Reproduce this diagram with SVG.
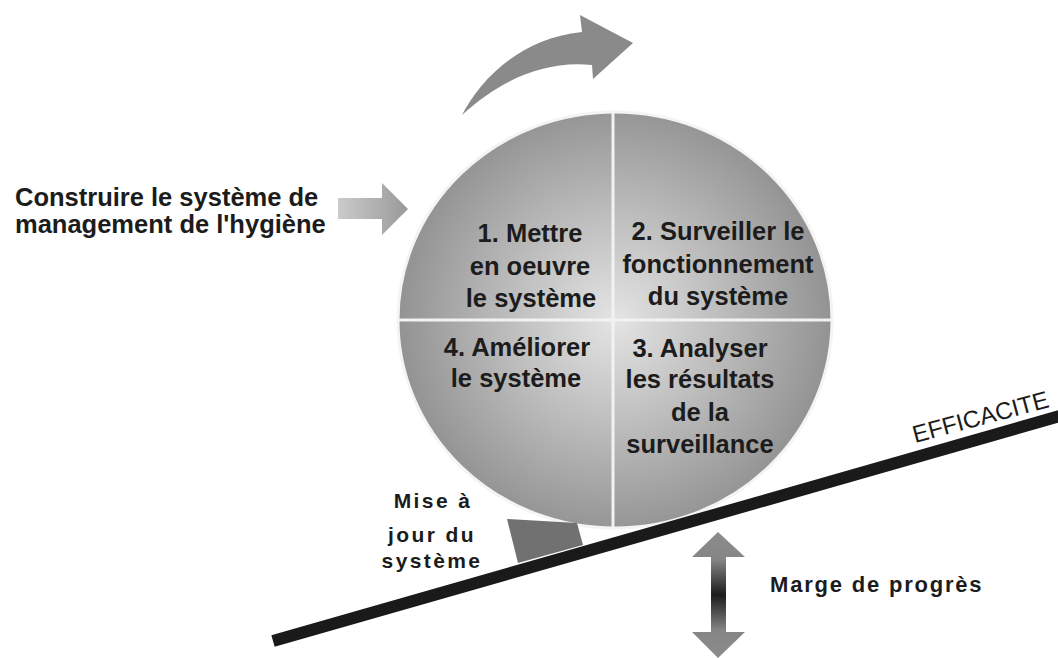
<svg xmlns="http://www.w3.org/2000/svg" width="1058" height="658" viewBox="0 0 1058 658">
  <style>
    .q { font-family: "Liberation Sans", Arial, sans-serif; font-weight: bold; font-size: 25.5px; fill: #1c1c1c; text-anchor: middle; }
    .lbl { font-family: "Liberation Sans", Arial, sans-serif; font-weight: bold; fill: #1c1c1c; }
    .eff { font-family: "Liberation Sans", Arial, sans-serif; font-size: 24px; fill: #1c1c1c; }
    .div { stroke: #f2f2f2; stroke-width: 3; }
  </style>
  <defs>
    <radialGradient id="gCircle" cx="615" cy="320" r="218" gradientUnits="userSpaceOnUse">
      <stop offset="0" stop-color="#e4e4e4"/>
      <stop offset="0.45" stop-color="#c0c0c0"/>
      <stop offset="1" stop-color="#929292"/>
    </radialGradient>
    <linearGradient id="gLeft" x1="338" y1="0" x2="408" y2="0" gradientUnits="userSpaceOnUse">
      <stop offset="0" stop-color="#cbcbcb"/>
      <stop offset="1" stop-color="#999999"/>
    </linearGradient>
    <linearGradient id="gDouble" x1="0" y1="532" x2="0" y2="658" gradientUnits="userSpaceOnUse">
      <stop offset="0" stop-color="#8c8c8c"/>
      <stop offset="0.22" stop-color="#858585"/>
      <stop offset="0.5" stop-color="#1c1c1c"/>
      <stop offset="0.78" stop-color="#858585"/>
      <stop offset="1" stop-color="#8c8c8c"/>
    </linearGradient>
  </defs>
  <rect width="1058" height="658" fill="#ffffff"/>

  <g id="cycle">
    <ellipse cx="615" cy="320" rx="217" ry="208" fill="url(#gCircle)" stroke="#f4f4f4" stroke-width="3"/>
    <line class="div" x1="613" y1="112" x2="613" y2="528"/>
    <line class="div" x1="398" y1="320" x2="832" y2="320"/>
  </g>

  <g id="q1-mettre-en-oeuvre">
    <text class="q" x="530" y="242">1. Mettre</text>
    <text class="q" x="530" y="275">en oeuvre</text>
    <text class="q" x="531" y="307">le système</text>
  </g>
  <g id="q2-surveiller">
    <text class="q" x="718" y="240">2. Surveiller le</text>
    <text class="q" x="718" y="273">fonctionnement</text>
    <text class="q" x="718" y="305">du système</text>
  </g>
  <g id="q3-analyser">
    <text class="q" x="700" y="357">3. Analyser</text>
    <text class="q" x="700" y="388">les résultats</text>
    <text class="q" x="700" y="421">de la</text>
    <text class="q" x="700" y="453">surveillance</text>
  </g>
  <g id="q4-ameliorer">
    <text class="q" x="517" y="356">4. Améliorer</text>
    <text class="q" x="516" y="387">le système</text>
  </g>

  <g id="construire">
    <text class="lbl" x="15" y="206" font-size="25.5">Construire le système de</text>
    <text class="lbl" x="15" y="233" font-size="25.5">management de l'hygiène</text>
  </g>

  <g id="mise-a-jour">
    <polygon points="507,519 577,523 583,545 518,563" fill="#717171"/>
    <text class="lbl" font-size="21" letter-spacing="2.4" text-anchor="middle" x="433" y="508">Mise à</text>
    <text class="lbl" font-size="21" letter-spacing="2.4" text-anchor="middle" x="432" y="542">jour du</text>
    <text class="lbl" font-size="21" letter-spacing="2.4" text-anchor="middle" x="432" y="568">système</text>
  </g>

  <g id="efficacite">
    <line x1="273" y1="641" x2="1060" y2="416" stroke="#1a1a1a" stroke-width="12"/>
    <text class="eff" transform="translate(915,443) rotate(-15)">EFFICACITE</text>
  </g>

  <g id="marge">
    <text class="lbl" font-size="22" letter-spacing="1.8" x="770" y="592">Marge de progrès</text>
  </g>

  <g id="connectors">
    <path d="M338,198 L382,198 L382,183 L408,209 L382,235 L382,219 L338,219 Z" fill="url(#gLeft)"/>
    <path d="M462,115 C480,80 520,38 582,32 L580,15 L633,43 L593,79 L592,65 C545,60 500,80 462,115 Z" fill="#8a8a8a"/>
    <path d="M718,532 L745,557 L726,557 L726,632 L745,632 L718,658 L692,632 L711,632 L711,557 L692,557 Z" fill="url(#gDouble)"/>
  </g>
</svg>
